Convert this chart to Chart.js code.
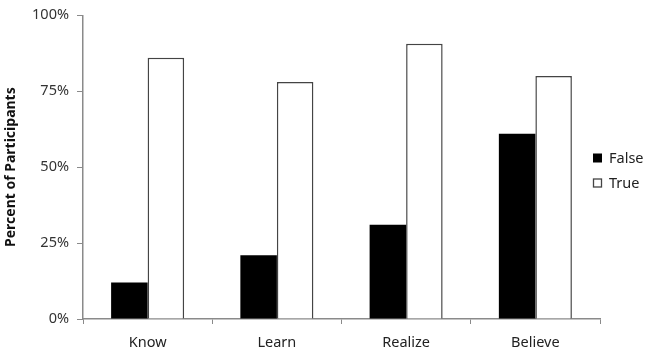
<!DOCTYPE html>
<html lang="en">
<head>
<meta charset="UTF-8">
<title>Percent of Participants</title>
<script src="https://cdn.jsdelivr.net/npm/chart.js@4/dist/chart.umd.min.js"></script>
<style>
  html, body { margin: 0; padding: 0; background: #fff; }
  #wrap { width: 647px; height: 355px; }
</style>
</head>
<body>
<div id="wrap"><canvas id="c"></canvas></div>
<script>
// data
const categories = ['Know', 'Learn', 'Realize', 'Believe'];
const falseValues = [12, 21, 31, 61];
const trueValues = [86, 78, 90.6, 80];
const yTicks = [0, 25, 50, 75, 100];

const FONT = '"Noto Sans", "Open Sans", sans-serif';
const AXIS = '#8a8a8a';

// legend drawn beside the plot, items taken from the datasets
const sideLegend = {
  id: 'sideLegend',
  afterDraw(chart) {
    const ctx = chart.ctx;
    const x = 593, y0 = 158, step = 25, box = 9;
    ctx.save();
    ctx.font = '14.5px ' + FONT;
    ctx.textBaseline = 'middle';
    chart.data.datasets.forEach((ds, i) => {
      const y = y0 + i * step;
      ctx.fillStyle = ds.backgroundColor;
      ctx.fillRect(x, y - box / 2, box, box);
      if (ds.borderWidth) {
        ctx.strokeStyle = ds.borderColor;
        ctx.lineWidth = 1.3;
        ctx.strokeRect(x + 0.5, y - box / 2 + 0.5, box - 1, box - 1);
      }
      ctx.fillStyle = '#222';
      ctx.fillText(ds.label, x + 16, y + 1);
    });
    ctx.restore();
  }
};

new Chart(document.getElementById('c'), {
  type: 'bar',
  data: {
    labels: categories,
    datasets: [
      {
        label: 'False',
        data: falseValues,
        backgroundColor: '#000',
        borderWidth: 0,
        barPercentage: 1,
        categoryPercentage: 0.565
      },
      {
        label: 'True',
        data: trueValues,
        backgroundColor: '#fff',
        borderColor: '#444',
        borderWidth: 1.5,
        barPercentage: 1,
        categoryPercentage: 0.565
      }
    ]
  },
  options: {
    responsive: true,
    maintainAspectRatio: false,
    animation: false,
    layout: { padding: { top: 12, right: 47, left: 0, bottom: 0 } },
    plugins: {
      legend: { display: false },
      tooltip: { enabled: false }
    },
    scales: {
      x: {
        grid: {
          offset: true,
          drawOnChartArea: false,
          drawTicks: true,
          tickLength: 5,
          color: AXIS
        },
        border: { color: AXIS, width: 1.5 },
        ticks: { color: '#222', font: { family: FONT, size: 14.5 }, padding: 10 },
        afterFit(scale) { scale.height = 36; }
      },
      y: {
        min: 0,
        max: 100,
        afterBuildTicks(scale) { scale.ticks = yTicks.map(v => ({ value: v })); },
        grid: {
          drawOnChartArea: false,
          drawTicks: true,
          tickLength: 6,
          color: AXIS
        },
        border: { color: AXIS, width: 1.5 },
        ticks: {
          color: '#333',
          font: { family: FONT, size: 14.5, lineHeight: 1 },
          padding: 8,
          callback: v => v + '%'
        },
        title: {
          display: true,
          text: 'Percent of Participants',
          color: '#111',
          font: { family: FONT, size: 14, weight: 'bold' },
          padding: { top: 3, bottom: 4 }
        },
        afterFit(scale) { scale.width = 83; }
      }
    }
  },
  plugins: [sideLegend]
});
</script>
</body>
</html>
